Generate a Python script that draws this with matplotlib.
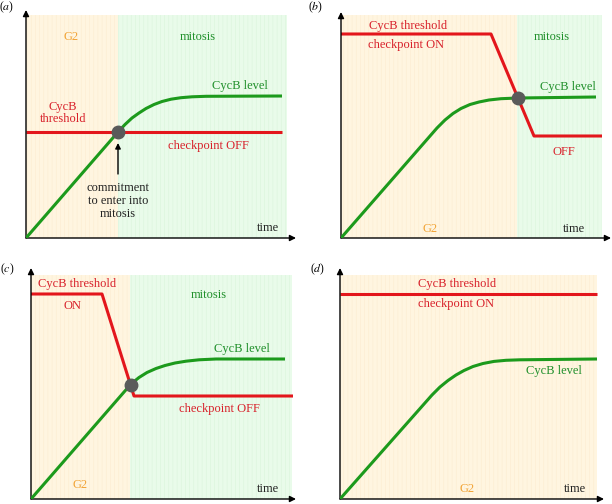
import matplotlib
matplotlib.use("Agg")
import matplotlib.pyplot as plt

plt.rcParams['font.family'] = ['Liberation Serif', 'DejaVu Serif']
plt.rcParams['mathtext.fontset'] = 'stix'
plt.rcParams['hatch.linewidth'] = 0.4

# ---------------- data (time / level, arbitrary units) ----------------
# Panel (a)
a_green_t = [0, 92, 99, 106, 113, 120, 128, 136, 145, 155, 166, 180, 256]
a_green_y = [0, 106, 113.5, 120, 125, 129.5, 133.5, 136.5, 138.8, 140.3, 141.2, 141.7, 142]
a_red_t = [0, 256]
a_red_y = [106, 106]
a_cross = (92, 106)
a_phase_end = 92           # end of G2
a_extent = (261, 223)      # shaded area
a_axes = (270, 228)        # axis arrow tips

# Panel (b)
b_green_t = [0, 96, 104, 112, 120, 129, 138, 148, 160, 177, 255]
b_green_y = [0, 110, 118, 124.5, 129.5, 133.5, 136, 138, 139.3, 140, 141]
b_red_t = [0, 150, 193, 261]
b_red_y = [204, 204, 102, 102]
b_cross = (177, 140)
b_phase_end = 176
b_extent = (261, 223)
b_axes = (270, 226)

# Panel (c)
c_green_t = [0, 100, 108, 116, 125, 134, 144, 155, 168, 185, 254]
c_green_y = [0, 115, 121.5, 126.5, 130.5, 133.5, 136, 137.8, 139.2, 140, 140]
c_red_t = [0, 71, 103, 262]
c_red_y = [205, 205, 103, 103]
c_cross = (100, 114)
c_phase_end = 99
c_extent = (261, 224)
c_axes = (265, 231)

# Panel (d)
d_green_t = [0, 92, 100, 108, 116, 124, 133, 143, 154, 166, 180, 257]
d_green_y = [0, 104, 112, 118.5, 124, 128.5, 132.5, 135.5, 137.6, 138.7, 139.2, 140]
d_red_t = [0, 257]
d_red_y = [205, 205]
d_cross = None
d_phase_end = None        # G2 throughout
d_extent = (257, 224)
d_axes = (264, 231)

# ---------------- styling ----------------
RED = '#E3161C'
RED_TXT = '#D8202A'
GREEN = '#1C9A1C'
GREEN_TXT = '#1F8F2A'
ORANGE = '#F2A335'
YELLOW_BG = '#FFF5E0'
YELLOW_HATCH = '#FCECD0'
GREEN_BG = '#E9FBEA'
GREEN_HATCH = '#DAF5DB'
FS = 9

W, H = 612, 504
fig = plt.figure(figsize=(W / 100, H / 100), dpi=100)


def make_panel(origin, axes_tip, extent, phase_end, label, label_pos):
    ox, oy = origin
    xt, yt = axes_tip
    ax = fig.add_axes([ox / W, (H - oy) / H, xt / W, yt / H])
    ax.set_xlim(0, xt)
    ax.set_ylim(0, yt)
    ax.axis('off')
    ex, ey = extent
    if phase_end is None:
        ax.fill_between([0, ex], 0, ey, facecolor=YELLOW_BG, edgecolor=YELLOW_HATCH,
                        hatch='||||', lw=0, zorder=0)
    else:
        ax.fill_between([0, phase_end], 0, ey, facecolor=YELLOW_BG, edgecolor=YELLOW_HATCH,
                        hatch='||||', lw=0, zorder=0)
        ax.fill_between([phase_end, ex], 0, ey, facecolor=GREEN_BG, edgecolor=GREEN_HATCH,
                        hatch='||||', lw=0, zorder=0)
    ap = dict(arrowstyle='-|>', color='black', lw=1.0, mutation_scale=9,
              shrinkA=0, shrinkB=0)
    ax.annotate('', xy=(xt, 0), xytext=(0, 0), arrowprops=ap, annotation_clip=False)
    ax.annotate('', xy=(0, yt), xytext=(0, 0), arrowprops=ap, annotation_clip=False)
    fig.text(label_pos[0] / W, 1 - label_pos[1] / H, label, fontsize=8.5,
             ha='center', va='center')
    return ax


def draw_curves(ax, gt, gy, rt, ry, cross):
    ax.plot(rt, ry, color=RED, lw=2.2, solid_capstyle='butt', zorder=2)
    ax.plot(gt, gy, color=GREEN, lw=2.2, solid_capstyle='butt',
            solid_joinstyle='round', zorder=3)
    if cross is not None:
        ax.plot([cross[0]], [cross[1]], 'o', color='#5A5A5A', ms=9, mec='#5A5A5A',
                zorder=4)


def txt(ax, x, y, s, color, **kw):
    ax.text(x, y, s, color=color, fontsize=FS, ha='center', va='center', **kw)


# (a)
ax = make_panel((26, 238), a_axes, a_extent, a_phase_end, '($a$)', (7, 7))
draw_curves(ax, a_green_t, a_green_y, a_red_t, a_red_y, a_cross)
txt(ax, 45, 201, 'G2', ORANGE)
txt(ax, 172, 201, 'mitosis', GREEN_TXT)
txt(ax, 214, 152, 'CycB level', GREEN_TXT)
txt(ax, 37, 125, 'CycB\nthreshold', RED_TXT, linespacing=1.05)
txt(ax, 182, 92, 'checkpoint OFF', RED_TXT)
ax.annotate('', xy=(92, 95), xytext=(92, 64),
            arrowprops=dict(arrowstyle='-|>', color='black', lw=1.0,
                            mutation_scale=8, shrinkA=0, shrinkB=0))
txt(ax, 92, 37, 'commitment\nto enter into\nmitosis', '#222222', linespacing=1.1)
txt(ax, 242, 10, 'time', '#222222')

# (b)
ax = make_panel((341, 238), b_axes, b_extent, b_phase_end, '($b$)', (316, 7))
draw_curves(ax, b_green_t, b_green_y, b_red_t, b_red_y, b_cross)
txt(ax, 67, 212, 'CycB threshold', RED_TXT)
txt(ax, 65, 193, 'checkpoint ON', RED_TXT)
txt(ax, 211, 201, 'mitosis', GREEN_TXT)
txt(ax, 227, 151, 'CycB level', GREEN_TXT)
txt(ax, 223, 86, 'OFF', RED_TXT)
txt(ax, 89, 9, 'G2', ORANGE)
txt(ax, 233, 9, 'time', '#222222')

# (c)
ax = make_panel((31, 499), c_axes, c_extent, c_phase_end, '($c$)', (7, 269))
draw_curves(ax, c_green_t, c_green_y, c_red_t, c_red_y, c_cross)
txt(ax, 46, 215, 'CycB threshold', RED_TXT)
txt(ax, 41, 193, 'ON', RED_TXT)
txt(ax, 178, 204, 'mitosis', GREEN_TXT)
txt(ax, 211, 150, 'CycB level', GREEN_TXT)
txt(ax, 188, 90, 'checkpoint OFF', RED_TXT)
txt(ax, 49, 14, 'G2', ORANGE)
txt(ax, 237, 10, 'time', '#222222')

# (d)
ax = make_panel((340, 499), d_axes, d_extent, d_phase_end, '($d$)', (318, 269))
draw_curves(ax, d_green_t, d_green_y, d_red_t, d_red_y, d_cross)
txt(ax, 117, 215, 'CycB threshold', RED_TXT)
txt(ax, 116, 195, 'checkpoint ON', RED_TXT)
txt(ax, 214, 128, 'CycB level', GREEN_TXT)
txt(ax, 127, 10, 'G2', ORANGE)
txt(ax, 235, 10, 'time', '#222222')

fig.savefig('out.png', dpi=100)
